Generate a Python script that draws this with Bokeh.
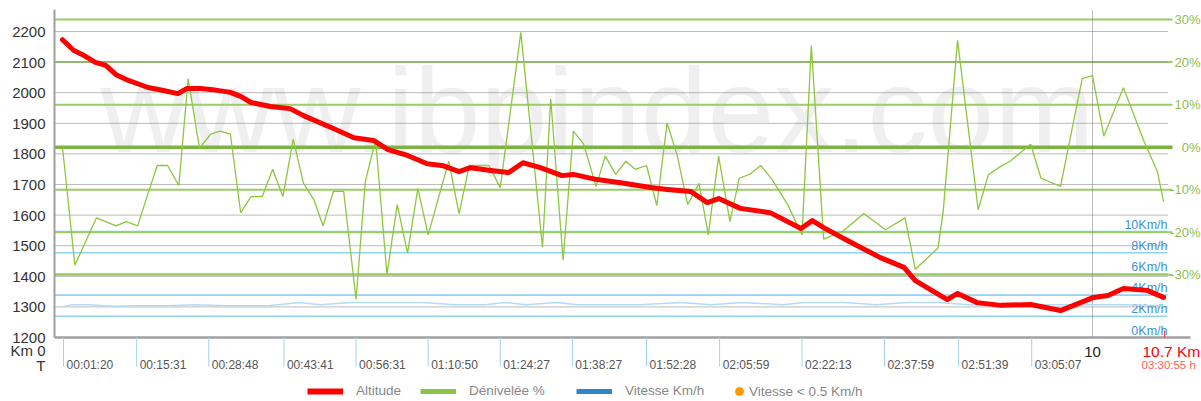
from bokeh.plotting import figure
from bokeh.models import Range1d, FixedTicker, Legend, LegendItem
from bokeh.core.properties import value
from bokeh.embed import file_html
from bokeh.resources import INLINE

# ---------------- data ----------------
ALT_KM = [0.00, 0.11, 0.19, 0.32, 0.42, 0.52, 0.64, 0.83, 0.98, 1.12, 1.21, 1.34, 1.46, 1.63,
          1.73, 1.83, 2.02, 2.21, 2.34, 2.63, 2.83, 3.02, 3.16, 3.35, 3.54, 3.70, 3.85, 3.96,
          4.16, 4.33, 4.47, 4.64, 4.85, 4.96, 5.19, 5.42, 5.71, 5.87, 6.10, 6.26, 6.37, 6.58,
          6.87, 7.17, 7.28, 7.39, 7.62, 7.94, 8.17, 8.28, 8.59, 8.69, 8.88, 9.11, 9.40, 9.69,
          10.01, 10.15, 10.30, 10.53, 10.69]
ALT_M = [2173, 2138, 2125, 2099, 2089, 2059, 2040, 2017, 2007, 1997, 2014, 2014, 2010, 2001,
         1988, 1968, 1955, 1948, 1925, 1883, 1853, 1844, 1814, 1795, 1768, 1761, 1742, 1755,
         1746, 1739, 1771, 1755, 1729, 1733, 1716, 1706, 1690, 1684, 1677, 1641, 1654, 1622,
         1608, 1556, 1582, 1559, 1517, 1461, 1429, 1386, 1324, 1344, 1314, 1305, 1308, 1288,
         1331, 1337, 1360, 1354, 1331]

GRADE_KM = [0.00, 0.12, 0.20, 0.33, 0.52, 0.62, 0.73, 0.83, 0.92, 1.02, 1.13, 1.22, 1.33, 1.44,
            1.53, 1.63, 1.73, 1.83, 1.94, 2.04, 2.14, 2.24, 2.34, 2.44, 2.53, 2.63, 2.73, 2.85,
            2.94, 3.04, 3.15, 3.25, 3.35, 3.45, 3.55, 3.75, 3.85, 3.95, 4.14, 4.25, 4.45, 4.66,
            4.74, 4.86, 4.96, 5.06, 5.18, 5.27, 5.37, 5.47, 5.56, 5.67, 5.77, 5.87, 5.97, 6.07,
            6.18, 6.27, 6.37, 6.48, 6.57, 6.67, 6.78, 6.89, 7.04, 7.18, 7.27, 7.39, 7.49, 7.58,
            7.78, 7.99, 8.18, 8.28, 8.50, 8.55, 8.69, 8.89, 8.99, 9.11, 9.20, 9.40, 9.50, 9.69,
            9.90, 10.00, 10.11, 10.30, 10.50, 10.63, 10.69]
GRADE_PCT = [0.0, -27.7, -23.5, -16.6, -18.5, -17.5, -18.5, -10.9, -4.3, -4.3, -9.0, 16.1, -0.2, 3.1,
             3.8, 3.1, -15.4, -11.6, -11.6, -5.2, -11.6, 1.9, -8.5, -12.3, -18.5, -10.4, -10.4, -35.8,
             -8.1, 1.7, -29.9, -13.5, -24.9, -9.7, -20.6, -3.3, -15.6, -4.3, -4.3, -9.5, 27.0, -23.5,
             11.4, -26.5, 3.8, 0.7, -9.2, -2.1, -6.4, -3.3, -5.2, -4.3, -13.7, 5.7, -2.1, -13.5,
             -8.5, -20.6, -2.1, -17.5, -7.3, -6.4, -4.3, -7.6, -13.5, -20.6, 23.9, -21.6, -20.6, -19.7,
             -15.6, -19.4, -16.6, -28.7, -23.7, -15.2, 25.1, -14.7, -6.4, -4.5, -3.3, 0.7, -7.3, -9.2,
             16.1, 16.8, 2.6, 14.0, 1.4, -5.7, -12.8]

SPEED_KM = [0.0, 0.1, 0.25, 0.5, 0.7, 1.0, 1.3, 1.6, 2.0, 2.3, 2.5, 2.8, 3.1, 3.3, 3.5, 3.8, 4.1,
            4.3, 4.5, 4.8, 5.0, 5.3, 5.6, 6.0, 6.3, 6.6, 7.0, 7.2, 7.6, 7.9, 8.2, 8.5, 8.8, 9.1,
            9.4, 9.7, 10.0, 10.3, 10.69]
SPEED_KMH = [2.9, 3.1, 3.1, 2.95, 3.0, 3.0, 3.1, 3.0, 3.0, 3.3, 3.1, 3.3, 3.3, 3.3, 3.3, 3.1, 3.1,
             3.3, 3.1, 3.3, 3.1, 3.1, 3.1, 3.3, 3.1, 3.3, 3.1, 3.3, 3.3, 3.1, 3.3, 3.3, 3.1, 3.1,
             3.1, 3.1, 3.1, 3.1, 3.0]

TIME_KM = [0.01, 0.72, 1.42, 2.15, 2.85, 3.55, 4.25, 4.95, 5.67, 6.38, 7.18, 7.98, 8.70, 9.41]
TIME_LABELS = ["00:01:20", "00:15:31", "00:28:48", "00:43:41", "00:56:31", "01:10:50", "01:24:27",
               "01:38:27", "01:52:28", "02:05:59", "02:22:13", "02:37:59", "02:51:39", "03:05:07"]

ALT_TICKS = [1200, 1300, 1400, 1500, 1600, 1700, 1800, 1900, 2000, 2100, 2200]
PCT_TICKS = [30, 20, 10, 0, -10, -20, -30]
PCT_LABELS = ["30%", "20%", "10%", "0%", "-10%", "-20%", "-30%"]
SPEED_TICKS = [0, 2, 4, 6, 8, 10]
SPEED_LABELS = ["0Km/h", "2Km/h", "4Km/h", "6Km/h", "8Km/h", "10Km/h"]

KM_MARK = 10
TOTAL_KM = 10.7
KM_ROW_LABEL = "Km 0"
TIME_ROW_LABEL = "T"
TOTAL_KM_LABEL = "10.7 Km"
TOTAL_TIME_LABEL = "03:30:55 h"
LEGEND_LABELS = ["Altitude", "Dénivelée %", "Vitesse Km/h", "Vitesse < 0.5 Km/h"]
WATERMARK = "www.ibpindex.com"

# ---------------- layout (page pixel geometry) ----------------
W, H = 1201, 401
FRAME_LEFT, FRAME_TOP = 52, 9
KM0_PX, PX_PER_KM = 62.0, 103.0
ALT0, ALT0_PY, PX_PER_M = 1200, 337.0, 0.306
PCT0_PY, PX_PER_PCT = 146.7, 4.255
SPD0_PY, PX_PER_KMH = 337.0, 10.6
NAN = float("nan")


def km_at(px):
    return (px - KM0_PX) / PX_PER_KM


def alt_at(py):
    return ALT0 + (ALT0_PY - py) / PX_PER_M


def pct_at(py):
    return (PCT0_PY - py) / PX_PER_PCT


def spd_at(py):
    return (SPD0_PY - py) / PX_PER_KMH


FONT = value("Liberation Sans")

p = figure(width=W, height=H, output_backend="svg", toolbar_location=None,
           x_range=Range1d(km_at(FRAME_LEFT), km_at(W)),
           y_range=Range1d(alt_at(H), alt_at(FRAME_TOP)),
           x_axis_location=None, y_axis_location="left",
           min_border_left=FRAME_LEFT, min_border_right=0,
           min_border_top=FRAME_TOP, min_border_bottom=0)
p.extra_y_ranges = {
    "pct": Range1d(pct_at(H), pct_at(FRAME_TOP)),
    "spd": Range1d(spd_at(H), spd_at(FRAME_TOP)),
}
p.outline_line_color = None
p.grid.visible = False
p.background_fill_color = "white"
p.border_fill_color = "white"

# left axis: altitude ticks plus the two row captions of the bottom scale
km_row_alt = round(alt_at(350))
time_row_alt = round(alt_at(365))
ax = p.yaxis[0]
ax.ticker = FixedTicker(ticks=ALT_TICKS + [km_row_alt, time_row_alt])
ax.major_label_overrides = {km_row_alt: KM_ROW_LABEL, time_row_alt: TIME_ROW_LABEL}
ax.axis_line_color = None
ax.major_tick_line_color = None
ax.minor_tick_line_color = None
ax.major_tick_out = 0
ax.major_tick_in = 0
ax.major_label_standoff = 7
ax.major_label_text_font = "Liberation Sans"
ax.major_label_text_font_size = "15px"
ax.major_label_text_color = "#333333"

x_left = km_at(54)
x_grid_end = km_at(1167)
x_green_end = km_at(1172)
y_top = alt_at(FRAME_TOP)

# watermark
p.text(x=[km_at(100)], y=[alt_at(109)], text=[WATERMARK], text_font=FONT,
       text_font_size="120px", text_color="#efefef", text_align="left",
       text_baseline="alphabetic")

# speed reference lines (blue)
p.segment(x0=[x_left] * (len(SPEED_TICKS) - 1), x1=[x_grid_end] * (len(SPEED_TICKS) - 1),
          y0=SPEED_TICKS[1:], y1=SPEED_TICKS[1:], y_range_name="spd",
          line_color="#8fd3f7", line_width=1.6)

# grade reference lines (green)
nz = [t for t in PCT_TICKS if t != 0]
p.segment(x0=[x_left] * len(nz), x1=[x_green_end] * len(nz), y0=nz, y1=nz,
          y_range_name="pct", line_color="#9ccc65", line_width=2)
p.segment(x0=[x_left], x1=[x_green_end], y0=[0], y1=[0], y_range_name="pct",
          line_color="#7cb342", line_width=3.5)

# dotted altitude grid
p.segment(x0=[x_left] * (len(ALT_TICKS) - 1), x1=[x_grid_end] * (len(ALT_TICKS) - 1),
          y0=ALT_TICKS[1:], y1=ALT_TICKS[1:], line_color="#777777", line_dash="1 1",
          line_width=1)
p.segment(x0=[KM_MARK], x1=[KM_MARK], y0=[ALT0], y1=[y_top], line_color="#777777",
          line_dash="1 1", line_width=1)

# axis lines
p.segment(x0=[x_left], x1=[x_left], y0=[ALT0], y1=[y_top], line_color="#a0a0a0", line_width=2)
p.segment(x0=[x_left], x1=[km_at(1190)], y0=[ALT0], y1=[ALT0], line_color="#a0a0a0",
          line_width=2.5)

# time ticks + labels
p.segment(x0=TIME_KM, x1=TIME_KM, y0=[ALT0] * len(TIME_KM), y1=[alt_at(366)] * len(TIME_KM),
          line_color="#a3d2ee", line_width=1)
p.text(x=TIME_KM, y=[ALT0] * len(TIME_KM), text=TIME_LABELS, x_offset=3, y_offset=27,
       text_font=FONT, text_font_size="12px", text_color="#555555",
       text_align="left", text_baseline="middle")

# km labels
p.text(x=[KM_MARK], y=[ALT0], text=[str(KM_MARK)], y_offset=14, text_font=FONT,
       text_font_size="15px", text_color="#222222", text_align="center", text_baseline="middle")
p.text(x=[km_at(1142)], y=[ALT0], text=[TOTAL_KM_LABEL], y_offset=14, text_font=FONT,
       text_font_size="15.5px", text_color="#ff0000", text_align="left", text_baseline="middle")
p.text(x=[km_at(1141)], y=[ALT0], text=[TOTAL_TIME_LABEL], y_offset=27, text_font=FONT,
       text_font_size="11.5px", text_color="#ff5a5a", text_align="left", text_baseline="middle")
p.segment(x0=[TOTAL_KM], x1=[TOTAL_KM], y0=[ALT0], y1=[alt_at(330)], line_color="#ff4040",
          line_width=1.2)

# right-side labels
p.text(x=[km_at(1200)] * len(PCT_TICKS), y=PCT_TICKS, text=PCT_LABELS, y_range_name="pct",
       text_font=FONT, text_font_size="13px", text_color="#8cc152", text_align="right",
       text_baseline="middle")
p.text(x=[km_at(1167)] * len(SPEED_TICKS), y=SPEED_TICKS, text=SPEED_LABELS, y_range_name="spd",
       y_offset=-7, text_font=FONT, text_font_size="12.5px", text_color="#3d8fd1",
       text_align="right", text_baseline="middle")

# series
p.line(SPEED_KM, SPEED_KMH, y_range_name="spd", line_color="#b3dcf3", line_width=1.5)
p.line(GRADE_KM, GRADE_PCT, y_range_name="pct", line_color="#8dc63f", line_width=1.3)
p.line(ALT_KM, ALT_M, line_color="#ff0000", line_width=5, line_join="round", line_cap="round")

# legend swatches (renderers with no visible points)
leg_alt = p.line([NAN], [NAN], line_color="#ff0000", line_width=6)
leg_grade = p.line([NAN], [NAN], line_color="#8cc34b", line_width=5)
leg_speed = p.line([NAN], [NAN], line_color="#2f86c9", line_width=5)
leg_slow = p.scatter([NAN], [NAN], marker="circle", size=10, fill_color="#ff9900",
                     line_color="#ff9900")

LEG_Y = 3
# (renderer, glyph left px, glyph width, glyph height, standoff)
legend_specs = [(leg_alt, 307, 36, 10, 13), (leg_grade, 420, 36, 10, 13),
                (leg_speed, 576, 36, 10, 13), (leg_slow, 729, 20, 26, 0)]
for (rend, px, gw, gh, so), lab in zip(legend_specs, LEGEND_LABELS):
    item_h = max(gh, 14)
    lg = Legend(items=[LegendItem(label=lab, renderers=[rend])], orientation="horizontal",
                location=(px - FRAME_LEFT, LEG_Y - (item_h - 14) / 2), glyph_width=gw,
                glyph_height=gh, label_height=14, label_standoff=so, padding=0, margin=0,
                spacing=0, border_line_color=None, background_fill_alpha=0,
                label_text_font="Liberation Sans", label_text_font_size="13.5px",
                label_text_color="#888888")
    p.add_layout(lg)

open("out.html", "w").write(file_html(p, INLINE))
